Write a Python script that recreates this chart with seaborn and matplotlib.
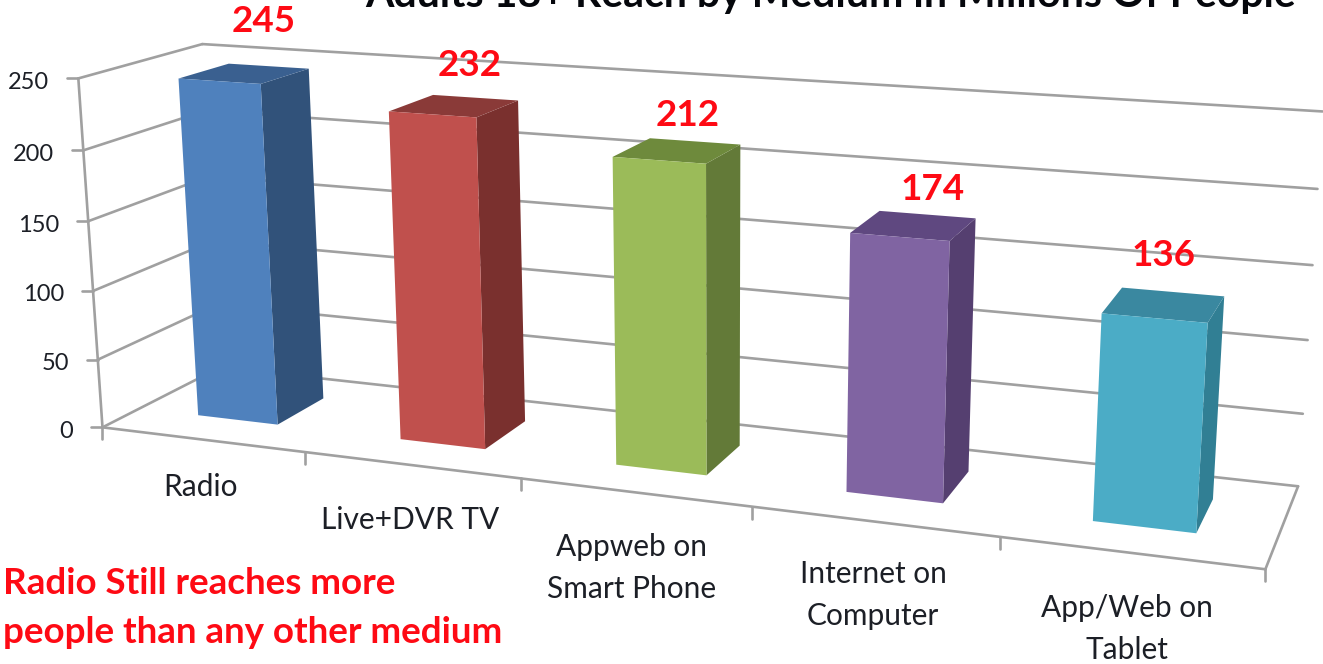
import numpy as np
import pandas as pd
import matplotlib
matplotlib.use("Agg")
import matplotlib.pyplot as plt
import seaborn as sns
from matplotlib.lines import Line2D
from matplotlib.patches import Polygon
from matplotlib.transforms import IdentityTransform, Transform

# ---- data ----
categories = ["Radio", "Live+DVR TV", "Appweb on\nSmart Phone", "Internet on\nComputer", "App/Web on\nTablet"]
reach = [245, 232, 212, 174, 136]
y_ticks = [0, 50, 100, 150, 200, 250]
front_colors = ["#4F81BD", "#C0504D", "#9BBB59", "#8064A2", "#4BACC6"]
side_colors = ["#31527A", "#7A302E", "#637A38", "#553F70", "#317F94"]
top_colors = ["#3A6090", "#8A3A38", "#6E8A3C", "#5F4880", "#3A88A0"]
title = "Adults 18+ Reach by Medium in Millions Of People"
note = ["Radio Still reaches more", "people than any other medium"]

W, H = 1323, 664
FONT = "Lato"
GRID = "#a0a0a0"
TEXT = "#1c1f26"

# ---- camera: a projective map (slot, value, depth) -> image pixel, calibrated on the chart's frame ----
calibration = [
    ((0, 0, 0), (104, 428)), ((5, 0, 0), (1265, 568)), ((0, 0, 1), (222, 367)), ((5, 0, 1), (1298, 485)),
    ((0, 250, 0), (79, 79)), ((0, 250, 1), (203, 43)), ((5, 250, 1), (1323, 112)),
    ((1, 0, 0), (305, 453)), ((2, 0, 0), (522, 480)), ((3, 0, 0), (752, 508)), ((4, 0, 0), (1000, 538)),
    ((5, 200, 1), (1318, 189)), ((5, 150, 1), (1313, 264)), ((5, 100, 1), (1308, 339)), ((5, 50, 1), (1303, 413)),
    ((0, 200, 0), (83, 150)), ((0, 150, 0), (88, 220)), ((0, 100, 0), (92, 289)), ((0, 50, 0), (97, 359)),
    ((.3, 0, .3), (198, 415)), ((.7, 0, .3), (277, 424)), ((.7, 0, .72), (322, 399)),
    ((.3, 245, .3), (180, 79)), ((.7, 245, .3), (262, 83)), ((.7, 245, .72), (307, 70)), ((.3, 245, .72), (227, 65)),
    ((4.3, 0, .3), (1093, 520)), ((4.7, 0, .3), (1197, 532)), ((4.7, 0, .72), (1212, 502)),
    ((4.3, 136, .3), (1102, 313)), ((4.7, 136, .3), (1207, 322)), ((4.7, 136, .72), (1223, 298)), ((4.3, 136, .72), (1122, 289)),
]
YS = 0.01  # condition the value axis
rows = []
for (x, y, z), (u, v) in calibration:
    X = [x, y * YS, z, 1]
    rows.append(X + [0, 0, 0, 0] + [-u * c for c in X])
    rows.append([0, 0, 0, 0] + X + [-v * c for c in X])
P = np.linalg.svd(np.array(rows, float))[2][-1].reshape(3, 4)


def project(x, y, z):
    """Slot/value/depth -> display coordinates (origin bottom-left)."""
    x, y = np.asarray(x, float), np.asarray(y, float)
    pts = np.column_stack([x, y * YS, np.full_like(x, z, dtype=float), np.ones_like(x)])
    q = pts @ P.T
    return np.column_stack([q[:, 0] / q[:, 2], H - q[:, 1] / q[:, 2]])


class DepthPlane(Transform):
    """Seaborn's (category index, value) data on a plane of constant depth."""
    input_dims = output_dims = 2
    is_separable = False
    has_inverse = False

    def __init__(self, z):
        super().__init__()
        self.z = z

    def transform_non_affine(self, values):
        values = np.asarray(values, float)
        return project(values[:, 0] + 0.5, values[:, 1], self.z)


BAR_FRONT, BAR_BACK = 0.30, 0.72
LW = 1.9

sns.set_theme(style="white")
fig = plt.figure(figsize=(W / 100, H / 100), dpi=100, facecolor="white")
ax = fig.add_axes([0, 0, 1, 1])
df = pd.DataFrame({"medium": categories, "reach": reach})
sns.barplot(data=df, x="medium", y="reach", hue="medium", palette=front_colors, order=categories,
            hue_order=categories, width=0.4, saturation=1, linewidth=0, legend=False, ax=ax, zorder=3)
ax.set_axis_off()
ident = IdentityTransform()


def segment(a, b, **kw):
    pa = project([a[0]], [a[1]], a[2])[0]
    pb = project([b[0]], [b[1]], b[2])[0]
    ax.add_line(Line2D([pa[0], pb[0]], [pa[1], pb[1]], transform=ident, color=GRID, lw=LW,
                       solid_capstyle="round", zorder=1, clip_on=False, **kw))


def pixel_text(x, y, s, **kw):
    ax.text(x, H - y, s, transform=ident, family=FONT, clip_on=False, **kw)


# ---- frame ----
for t in y_ticks:
    segment((0, t, 0), (0, t, 1))
    segment((0, t, 1), (5, t, 1))
    p = project([0], [t], 0)[0]
    ax.add_line(Line2D([p[0] - 11, p[0]], [p[1], p[1]], transform=ident, color=GRID, lw=LW, zorder=1))
    ax.text(p[0] - 29, p[1] - 4, str(t), transform=ident, family=FONT, fontsize=17, color=TEXT,
            ha="right", va="center")
segment((0, 0, 0), (0, 250, 0))
segment((0, 0, 0), (5, 0, 0))
segment((5, 0, 0), (5, 0, 1))
for i in range(6):
    p = project([i], [0], 0)[0]
    ax.add_line(Line2D([p[0], p[0]], [p[1], p[1] - 12], transform=ident, color=GRID, lw=LW, zorder=1))

# ---- bars: seaborn's fronts on the front plane, side and top faces derived from them ----
front = DepthPlane(BAR_FRONT)
for i, bar in enumerate(ax.patches):
    x0, x1, v = bar.get_x(), bar.get_x() + bar.get_width(), bar.get_height()
    bar.set_transform(front)
    bar.set_clip_on(False)
    sx, st = x1 + 0.5, x0 + 0.5
    side = np.vstack([project([sx, sx], [0, v], BAR_FRONT), project([sx, sx], [v, 0], BAR_BACK)])
    top = np.vstack([project([st, sx], [v, v], BAR_FRONT), project([sx, st], [v, v], BAR_BACK)])
    ax.add_patch(Polygon(side, closed=True, transform=ident, facecolor=side_colors[i], lw=0, zorder=2, clip_on=False))
    ax.add_patch(Polygon(top, closed=True, transform=ident, facecolor=top_colors[i], lw=0, zorder=2, clip_on=False))

# ---- texts ----
value_label_pos = [(264, 21), (470, 66), (688, 115), (933, 190), (1164, 256)]
for (x, y), val in zip(value_label_pos, reach):
    pixel_text(x, y, str(val), fontsize=26.5, fontweight="bold", color="#fe0a14", ha="center", va="center", zorder=5)

category_pos = [(201, 487), (410, 520), (632, 568), (873, 595), (1127, 629)]
for (x, y), lab in zip(category_pos, categories):
    pixel_text(x, y, lab, fontsize=21.5, color=TEXT, ha="center", va="center", linespacing=1.58, zorder=5)

pixel_text(365, 7, title, fontsize=29.5, fontweight="bold", color="#05070c", ha="left", va="baseline")
pixel_text(3, 594, note[0], fontsize=26.5, fontweight="bold", color="#fe0a14", ha="left", va="baseline")
pixel_text(3, 643, note[1], fontsize=26.5, fontweight="bold", color="#fe0a14", ha="left", va="baseline")

fig.savefig("out.png", dpi=100, facecolor="white")
